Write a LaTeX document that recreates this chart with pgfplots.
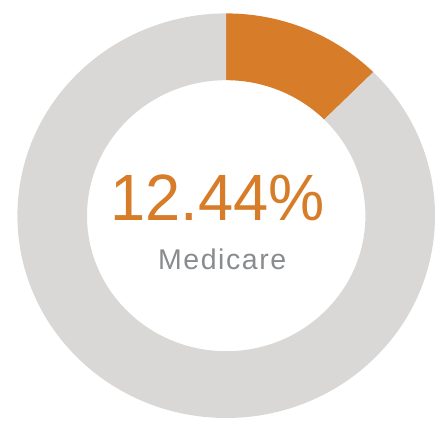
\documentclass[border=0pt]{standalone}
\usepackage{pgfplots}
\usepackage{pgfplotstable}
\pgfplotsset{compat=1.18}
\usetikzlibrary{calc}
\usepackage{fontspec}
\setmainfont{Liberation Sans}
\definecolor{donutorange}{HTML}{D77D2A}
\definecolor{donutgray}{HTML}{D9D8D6}
\definecolor{labelgray}{HTML}{898C8E}
\pgfplotstableread{
label value
Medicare 12.44
Other 87.56
}\donutdata
\begin{document}
\begin{tikzpicture}
\pgfplotstablegetelem{0}{value}\of\donutdata
\let\share\pgfplotsretval
\pgfmathsetmacro{\endangle}{90-3.6*\share}
\pgfmathsetmacro{\grayend}{90-360}
\begin{axis}[
  name=donut,
  width=441pt, height=421pt, scale only axis,
  xmin=0, xmax=441, ymin=0, ymax=421,
  hide axis, clip=false,
]
% center (226.2, 205.3); outer radii 208.8/202.3; inner radii 139.2/135.5
\fill[donutorange] (axis cs:226.2,205.3) ++(90:208.8pt and 202.3pt)
  arc[start angle=90, end angle=\endangle, x radius=208.8pt, y radius=202.3pt]
  -- ($(axis cs:226.2,205.3)+(\endangle:139.2pt and 135.5pt)$)
  arc[start angle=\endangle, end angle=90, x radius=139.2pt, y radius=135.5pt]
  -- cycle;
\fill[donutgray] (axis cs:226.2,205.3) ++(\endangle:208.8pt and 202.3pt)
  arc[start angle=\endangle, end angle=\grayend, x radius=208.8pt, y radius=202.3pt]
  -- ($(axis cs:226.2,205.3)+(\grayend:139.2pt and 135.5pt)$)
  arc[start angle=\grayend, end angle=\endangle, x radius=139.2pt, y radius=135.5pt]
  -- cycle;
\node[anchor=base, text=donutorange, inner sep=0pt, xscale=0.965]
  at (axis cs:217.4,201) {\fontsize{65.5}{65.5}\selectfont\share\%};
\node[anchor=base, text=labelgray, inner sep=0pt]
  at (axis cs:222.2,152) {\fontsize{28.5}{28.5}\selectfont\addfontfeatures{LetterSpace=5.5}Medicare};
\end{axis}
\pgfresetboundingbox
\path[use as bounding box] (donut.south west) rectangle (donut.north east);
\end{tikzpicture}
\end{document}
